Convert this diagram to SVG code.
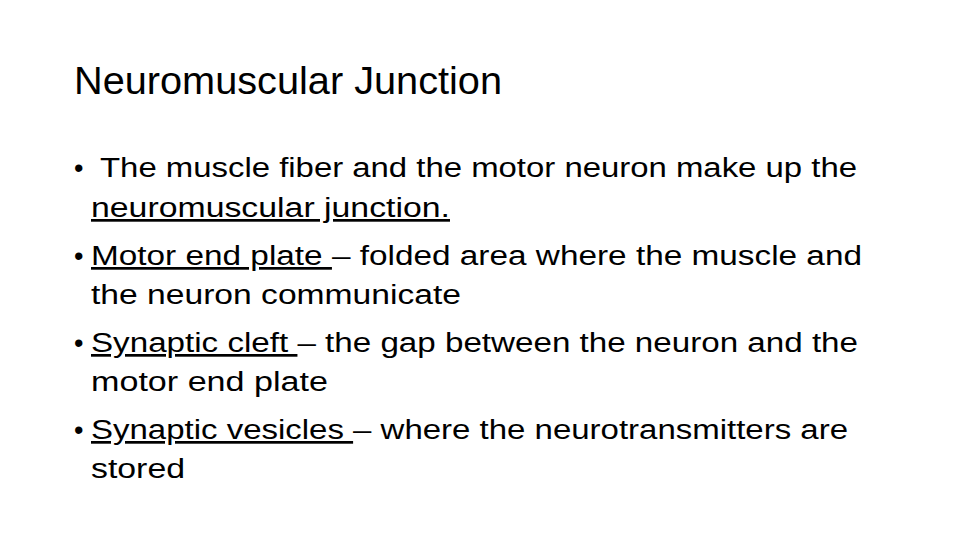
<svg xmlns="http://www.w3.org/2000/svg" width="960" height="540" viewBox="0 0 960 540">
<style>
text{font-family:"Liberation Sans",Arial,sans-serif;fill:#000}
.t{font-size:38px}
.b{font-size:27px}
.u{text-decoration:underline}
</style>
<rect width="960" height="540" fill="#fff"/>
<text class="t" x="74" y="94" textLength="428" lengthAdjust="spacingAndGlyphs">Neuromuscular Junction</text>
<g class="b">
<text class="b" x="74" y="177">•</text>
<text class="b" x="100" y="177" textLength="757" lengthAdjust="spacingAndGlyphs">The muscle fiber and the motor neuron make up the</text>
<text class="b u" x="91" y="217" textLength="359" lengthAdjust="spacingAndGlyphs">neuromuscular junction.</text>
<text class="b" x="74" y="265">•</text>
<text class="b" x="91" y="265" textLength="771" lengthAdjust="spacingAndGlyphs"><tspan class="u">Motor end plate </tspan>– folded area where the muscle and</text>
<text class="b" x="91" y="304" textLength="370" lengthAdjust="spacingAndGlyphs">the neuron communicate</text>
<text class="b" x="74" y="352">•</text>
<text class="b" x="91" y="352" textLength="767" lengthAdjust="spacingAndGlyphs"><tspan class="u">Synaptic cleft </tspan>– the gap between the neuron and the</text>
<text class="b" x="91" y="391" textLength="237" lengthAdjust="spacingAndGlyphs">motor end plate</text>
<text class="b" x="74" y="439">•</text>
<text class="b" x="91" y="439" textLength="757" lengthAdjust="spacingAndGlyphs"><tspan class="u">Synaptic vesicles </tspan>– where the neurotransmitters are</text>
<text class="b" x="91" y="478" textLength="94" lengthAdjust="spacingAndGlyphs">stored</text>
</g>
</svg>
